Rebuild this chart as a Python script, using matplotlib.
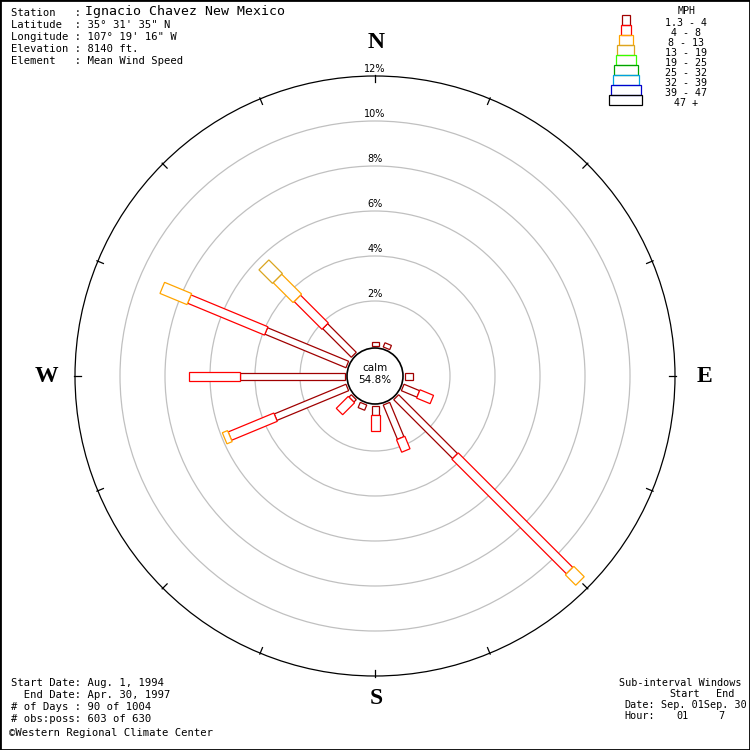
import numpy as np
import matplotlib.pyplot as plt
from matplotlib.patches import Polygon, Circle, Rectangle

# direcciones (grados desde el norte, sentido horario)
direcciones = ['N', 'NNE', 'NE', 'ENE', 'E', 'ESE', 'SE', 'SSE',
               'S', 'SSW', 'SW', 'WSW', 'W', 'WNW', 'NW', 'NNW']
angulos = np.arange(16) * 22.5

# clases de velocidad (MPH) y sus colores
clases = ['1.3 - 4', '4 - 8', '8 - 13', '13 - 19', '19 - 25',
          '25 - 32', '32 - 39', '39 - 47', '47 +']
colores = ['#A00000', '#FF0000', '#FFA500', '#DAA520', '#33FF00',
           '#00A000', '#00A0E0', '#0000CC', '#000000']

# frecuencia (%) por direccion para cada clase
f_1_4 = [0.2, 0.2, 0, 0, 0.35, 0.75, 3.7, 1.65, 0.4, 0.25, 0.15, 3.45, 4.65, 3.9, 1.8, 0]
f_4_8 = [0, 0, 0, 0, 0, 0.65, 7.2, 0.6, 0.7, 0, 0.75, 2.2, 2.3, 3.7, 1.75, 0]
f_8_13 = [0, 0, 0, 0, 0, 0, 0.65, 0, 0, 0, 0, 0.25, 0, 1.3, 1.25, 0]
f_13_19 = [0, 0, 0, 0, 0, 0, 0, 0, 0, 0, 0, 0, 0, 0, 0.85, 0]
frecuencias = [f_1_4, f_4_8, f_8_13, f_13_19]

calma = 54.8
anillos = [2, 4, 6, 8, 10, 12]

cabecera = ["Latitude  : 35\u00b0 31' 35\" N",
            "Longitude : 107\u00b0 19' 16\" W",
            "Elevation : 8140 ft.",
            "Element   : Mean Wind Speed"]
pie = ["Start Date: Aug. 1, 1994",
       "  End Date: Apr. 30, 1997",
       "# of Days : 90 of 1004",
       "# obs:poss: 603 of 630"]

# geometria en pixeles
escala = 22.5          # px por cada 1 %
r0 = 30 / escala       # radio donde empiezan los petalos
anchos_px = [7, 9, 12, 14, 17, 20, 23, 26, 29]
mono = 'DejaVu Sans Mono'
fs = 7.6

fig = plt.figure(figsize=(7.5, 7.5), dpi=100)

# ejes de la rosa, unidades en %
ax = fig.add_axes([0, 0, 1, 1])
ax.set_xlim(-375 / escala, 375 / escala)
ax.set_ylim(-374 / escala, 376 / escala)
ax.set_aspect('equal')
ax.axis('off')

for k in anillos:
    col = 'black' if k == anillos[-1] else '#C0C0C0'
    ax.add_patch(Circle((0, 0), r0 + k, fill=False, ec=col, lw=0.9, zorder=1))
    ax.text(0, r0 + k + 7 / escala, f'{k}%', ha='center', va='center',
            fontsize=7, zorder=2)

rmax = r0 + anillos[-1]
for ang in angulos:
    t = np.radians(ang)
    u = np.array([np.sin(t), np.cos(t)])
    ax.plot(*np.array([(rmax - 6 / escala) * u, (rmax + 1 / escala) * u]).T,
            color='black', lw=0.9, zorder=1)

# petalos
for i, ang in enumerate(angulos):
    t = np.radians(ang)
    u = np.array([np.sin(t), np.cos(t)])
    p = np.array([np.cos(t), -np.sin(t)])
    r = r0
    for k, f in enumerate(frecuencias):
        v = f[i]
        if v <= 0:
            continue
        w = anchos_px[k] / escala / 2
        pts = [r * u + w * p, (r + v) * u + w * p, (r + v) * u - w * p, r * u - w * p]
        ax.add_patch(Polygon(pts, closed=True, fc='white', ec=colores[k],
                             lw=0.9, zorder=3 + k))
        r += v

ax.add_patch(Circle((0, 0), 28 / escala, fc='white', ec='black', lw=1.2, zorder=10))
ax.text(0, 8 / escala, 'calm', ha='center', va='center', fontsize=7.5, zorder=11)
ax.text(0, -4 / escala, f'{calma}%', ha='center', va='center', fontsize=7.5, zorder=11)

# capa de texto en pixeles
ax2 = fig.add_axes([0, 0, 1, 1])
ax2.set_xlim(0, 750)
ax2.set_ylim(750, 0)
ax2.patch.set_alpha(0)
ax2.set_xticks([])
ax2.set_yticks([])
for s in ax2.spines.values():
    s.set_linewidth(2)

serif = dict(family='Liberation Serif', fontweight='bold', fontsize=17,
             ha='center', va='center')
ax2.text(376, 42, 'N', **serif)
ax2.text(376, 698, 'S', **serif)
ax2.text(46, 376, 'W', **serif)
ax2.text(704, 376, 'E', **serif)

ax2.text(11, 13, 'Station   :', family=mono, fontsize=fs, va='center')
ax2.text(85, 12, 'Ignacio Chavez New Mexico', family=mono, fontsize=9.5, va='center')
for j, linea in enumerate(cabecera):
    ax2.text(11, 25 + 12 * j, linea, family=mono, fontsize=fs, va='center')

for j, linea in enumerate(pie):
    ax2.text(11, 683 + 12 * j, linea, family=mono, fontsize=fs, va='center')
ax2.text(9, 733, '\u00a9Western Regional Climate Center', family=mono,
         fontsize=fs, va='center')

# ventanas (algo mas pequeno para que quepa dentro del marco)
fs2 = 7.3
ax2.text(619, 683, 'Sub-interval Windows', family=mono, fontsize=fs2, va='center')
ax2.text(669, 694, 'Start', family=mono, fontsize=fs2, va='center')
ax2.text(716, 694, 'End', family=mono, fontsize=fs2, va='center')
ax2.text(624, 705, 'Date:', family=mono, fontsize=fs2, va='center')
ax2.text(661, 705, 'Sep. 01Sep. 30', family=mono, fontsize=fs2, va='center')
ax2.text(624, 716, 'Hour:', family=mono, fontsize=fs2, va='center')
ax2.text(676, 716, '01', family=mono, fontsize=fs2, va='center')
ax2.text(718, 716, '7', family=mono, fontsize=fs2, va='center')

# leyenda
ax2.text(687, 11, 'MPH', family=mono, fontsize=7.2, ha='center', va='center')
anchos_ley = [8, 10, 14, 17, 20, 24, 26, 30, 33]
for k, (c, col) in enumerate(zip(clases, colores)):
    y = 15 + 10 * k
    w = anchos_ley[k]
    ax2.add_patch(Rectangle((625.5 - w / 2, y), w, 10, fill=False, ec=col, lw=0.9))
    ax2.text(686, y + 8, c, family=mono, fontsize=7.2, ha='center', va='center')

fig.savefig('out.png', dpi=100)
